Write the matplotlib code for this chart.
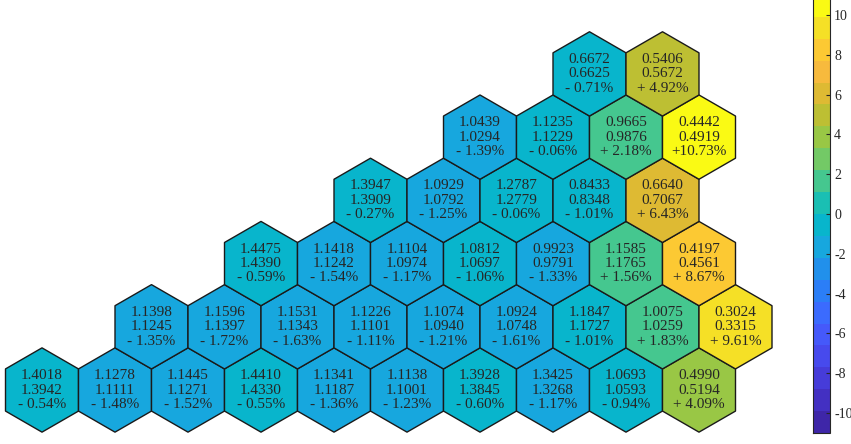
import numpy as np
import matplotlib
matplotlib.use("Agg")
import matplotlib.pyplot as plt
from matplotlib.patches import RegularPolygon
from matplotlib.collections import PatchCollection
from matplotlib.colors import ListedColormap, Normalize

plt.rcParams['axes.unicode_minus'] = False

# ---- data (rows from bottom to top) ----
row_start = [0.0, 1.5, 3.0, 4.5, 6.0, 7.5]   # grid column of first hex in each row

row0_ref = [1.4018, 1.1278, 1.1445, 1.4410, 1.1341, 1.1138, 1.3928, 1.3425, 1.0693, 0.4990]
row0_new = [1.3942, 1.1111, 1.1271, 1.4330, 1.1187, 1.1001, 1.3845, 1.3268, 1.0593, 0.5194]
row0_pct = [-0.54, -1.48, -1.52, -0.55, -1.36, -1.23, -0.60, -1.17, -0.94, 4.09]

row1_ref = [1.1398, 1.1596, 1.1531, 1.1226, 1.1074, 1.0924, 1.1847, 1.0075, 0.3024]
row1_new = [1.1245, 1.1397, 1.1343, 1.1101, 1.0940, 1.0748, 1.1727, 1.0259, 0.3315]
row1_pct = [-1.35, -1.72, -1.63, -1.11, -1.21, -1.61, -1.01, 1.83, 9.61]

row2_ref = [1.4475, 1.1418, 1.1104, 1.0812, 0.9923, 1.1585, 0.4197]
row2_new = [1.4390, 1.1242, 1.0974, 1.0697, 0.9791, 1.1765, 0.4561]
row2_pct = [-0.59, -1.54, -1.17, -1.06, -1.33, 1.56, 8.67]

row3_ref = [1.3947, 1.0929, 1.2787, 0.8433, 0.6640]
row3_new = [1.3909, 1.0792, 1.2779, 0.8348, 0.7067]
row3_pct = [-0.27, -1.25, -0.06, -1.01, 6.43]

row4_ref = [1.0439, 1.1235, 0.9665, 0.4442]
row4_new = [1.0294, 1.1229, 0.9876, 0.4919]
row4_pct = [-1.39, -0.06, 2.18, 10.73]

row5_ref = [0.6672, 0.5406]
row5_new = [0.6625, 0.5672]
row5_pct = [-0.71, 4.92]

cbar_ticks = [-10, -8, -6, -4, -2, 0, 2, 4, 6, 8, 10]
clim = (-11, 11)

rows_ref = [row0_ref, row1_ref, row2_ref, row3_ref, row4_ref, row5_ref]
rows_new = [row0_new, row1_new, row2_new, row3_new, row4_new, row5_new]
rows_pct = [row0_pct, row1_pct, row2_pct, row3_pct, row4_pct, row5_pct]

# ---- parula-like 20 level colormap ----
parula20 = [
    (0.2422, 0.1504, 0.6603), (0.2625, 0.1900, 0.7600), (0.2760, 0.2350, 0.8500),
    (0.2800, 0.2900, 0.9300), (0.2700, 0.3500, 0.9800), (0.2300, 0.4200, 0.9950),
    (0.1700, 0.4950, 0.9700), (0.1300, 0.5650, 0.9200), (0.0900, 0.6550, 0.8700),
    (0.0300, 0.7100, 0.8000), (0.1000, 0.7500, 0.7000), (0.2700, 0.7800, 0.5600),
    (0.4500, 0.7900, 0.4000), (0.6000, 0.7800, 0.2700), (0.7400, 0.7500, 0.2000),
    (0.8700, 0.7300, 0.2000), (0.9700, 0.7300, 0.2400), (0.9900, 0.7900, 0.2000),
    (0.9600, 0.8800, 0.1500), (0.9800, 0.9800, 0.0800),
]
cmap = ListedColormap(parula20)
norm = Normalize(vmin=clim[0], vmax=clim[1])

W, H = 851, 444
fig = plt.figure(figsize=(W / 100, H / 100), dpi=100)

# main axes: 73 px per hex width
px_unit = 73.0
x0_px, y0_px = 42.0, 390.0
ax_w_px = 800.0
ax = fig.add_axes([0, 0, ax_w_px / W, 1])
ax.set_xlim(-x0_px / px_unit, (ax_w_px - x0_px) / px_unit)
ax.set_ylim((y0_px - H) / px_unit, y0_px / px_unit)
ax.axis('off')

R = 1 / np.sqrt(3)
dy = np.sqrt(3) / 2
patches, values = [], []
for r, (xs, refs, news, pcts) in enumerate(zip(row_start, rows_ref, rows_new, rows_pct)):
    for i, (a, b, p) in enumerate(zip(refs, news, pcts)):
        cx, cy = xs + i, r * dy
        patches.append(RegularPolygon((cx, cy), numVertices=6, radius=R, orientation=0))
        values.append(p)
        sign = '+' if p >= 0 else '-'
        label = f"{a:.4f}\n{b:.4f}\n{sign}{abs(p):5.2f}%"
        ax.text(cx, cy, label, ha='center', va='center', multialignment='center',
                fontsize=11, family='Liberation Serif', color='#262626', linespacing=1.14)

pc = PatchCollection(patches, cmap=cmap, norm=norm, edgecolor='#1a1a1a', linewidth=1.0)
pc.set_array(np.array(values))
ax.add_collection(pc)

# colorbar
cax = fig.add_axes([813 / W, (H - 433) / H, 17 / W, 438 / H])
cb = fig.colorbar(pc, cax=cax, ticks=cbar_ticks)
cb.outline.set_linewidth(0.8)
cb.outline.set_edgecolor('#262626')
cax.tick_params(direction='in', length=3, width=0.8, color='#262626', labelsize=10,
                labelcolor='#262626', pad=3)
cax.set_yticklabels([str(t) for t in cbar_ticks], family='Liberation Serif')

fig.savefig('out.png', dpi=100)
